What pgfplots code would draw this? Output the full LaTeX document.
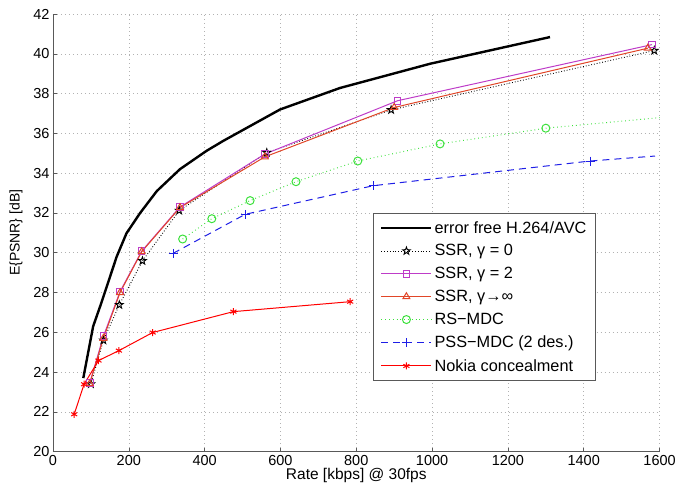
\documentclass[border=0pt]{standalone}
\usepackage{fontspec}
\setmainfont{Liberation Sans}
\usepackage{pgfplots}
\pgfplotsset{compat=1.18}

\definecolor{ssrmag}{RGB}{190,60,200}
\definecolor{ssrred}{RGB}{225,70,40}
\definecolor{rsgreen}{RGB}{60,225,60}
\definecolor{pssblue}{RGB}{30,30,230}

% five-pointed star outline (matlab pentagram)
\pgfdeclareplotmark{pentagram}{%
  \pgfpathmoveto{\pgfpointpolar{90}{\pgfplotmarksize}}%
  \pgfpathlineto{\pgfpointpolar{126}{0.4\pgfplotmarksize}}%
  \pgfpathlineto{\pgfpointpolar{162}{\pgfplotmarksize}}%
  \pgfpathlineto{\pgfpointpolar{198}{0.4\pgfplotmarksize}}%
  \pgfpathlineto{\pgfpointpolar{234}{\pgfplotmarksize}}%
  \pgfpathlineto{\pgfpointpolar{270}{0.4\pgfplotmarksize}}%
  \pgfpathlineto{\pgfpointpolar{306}{\pgfplotmarksize}}%
  \pgfpathlineto{\pgfpointpolar{342}{0.4\pgfplotmarksize}}%
  \pgfpathlineto{\pgfpointpolar{18}{\pgfplotmarksize}}%
  \pgfpathlineto{\pgfpointpolar{54}{0.4\pgfplotmarksize}}%
  \pgfpathclose\pgfusepathqstroke}

\begin{document}
\begin{tikzpicture}
\begin{axis}[
  scale only axis,
  width=607pt, height=438pt,
  xmin=0, xmax=1600, ymin=20, ymax=42,
  xtick={0,200,...,1600}, ytick={20,22,...,42},
  axis x line=bottom, axis y line=left,
  axis line style={-, gray!70!black, line width=0.6pt},
  tick style={gray!70!black, line width=0.5pt},
  tick align=inside, major tick length=4pt,
  grid=major,
  major grid style={gray!60, line width=0.5pt, dash pattern=on 0.8pt off 3.2pt},
  /pgf/number format/assume math mode=true,
  /pgf/number format/1000 sep={},
  font=\fontsize{14.5}{16}\selectfont,
  xlabel={Rate [kbps] @ 30fps},
  ylabel={E\{PSNR\} [dB]},
  xlabel style={font=\fontsize{15.5}{17}\selectfont, yshift=4pt},
  ylabel style={font=\fontsize{14}{16}\selectfont, yshift=4pt},
  legend style={at={(axis cs:844,32)}, anchor=north west,
    font=\fontsize{16.3}{18}\selectfont, draw=gray!70!black, line width=0.6pt,
    row sep=6pt, inner xsep=7pt, inner ysep=6pt, cells={anchor=west}},
  legend image code/.code={\draw[mark=none] (0pt,0pt) -- (50pt,0pt);
    \draw plot coordinates {(25pt,0pt)};},
]
% error free H.264/AVC
\addplot[black, line width=2.4pt, no marks] coordinates {
  (80,23.7) (106,26.3) (128,27.5) (168,29.8) (194,30.98) (230,32.0)
  (274,33.1) (335,34.2) (405,35.12) (449,35.62) (599,37.2) (757,38.28)
  (995,39.5) (1311,40.84)};
\addlegendentry{error free H.264/AVC\hspace{28pt}}
% SSR gamma = 0
\addplot[black, line width=0.9pt, dash pattern=on 0.8pt off 2pt,
  mark=pentagram, mark size=4pt, mark options={solid}] coordinates {
  (100,23.4) (133,25.6) (175,27.38) (236,29.59) (333,32.12) (564,35.03)
  (892,37.18) (1586,40.16)};
\addlegendentry{SSR, γ = 0}
% SSR gamma = 2
\addplot[ssrmag, line width=1pt, mark=square, mark size=3.3pt] coordinates {
  (97,23.45) (133,25.8) (177,28.05) (234,30.08) (335,32.3) (559,34.96)
  (909,37.64) (1580,40.46)};
\addlegendentry{SSR, γ = 2}
% SSR gamma -> inf
\addplot[ssrred, line width=1pt, mark=triangle, mark size=4pt] coordinates {
  (97,23.42) (133,25.7) (177,28.0) (234,30.05) (335,32.27) (559,34.82)
  (900,37.3) (1569,40.28)};
\addlegendentry{SSR, γ→∞}
% RS-MDC
\addplot[rsgreen, line width=1pt, dash pattern=on 0.8pt off 3pt,
  mark=o, mark size=4pt, mark options={solid}, mark indices={1,...,7}] coordinates {
  (342,30.69) (419,31.71) (520,32.62) (641,33.57) (804,34.61) (1021,35.47)
  (1300,36.26) (1600,36.79)};
\addlegendentry{RS−MDC}
% PSS-MDC (2 des.)
\addplot[pssblue, line width=1pt, dash pattern=on 7pt off 5pt,
  mark=+, mark size=4.5pt, mark options={solid}, mark indices={1,...,4}] coordinates {
  (317,29.97) (507,31.93) (845,33.37) (1417,34.61) (1588,34.86)};
\addlegendentry{PSS−MDC (2 des.)}
% Nokia concealment
\addplot[red, line width=1pt, mark=asterisk, mark size=3.5pt] coordinates {
  (56,21.88) (82,23.39) (120,24.58) (174,25.08) (263,25.99) (476,27.04)
  (784,27.54)};
\addlegendentry{Nokia concealment}
\end{axis}
% page margins as in the reference
\path (current axis.south west) ++(-53pt,-37pt) coordinate (bbA);
\path (current axis.south west) ++(626pt,452pt) coordinate (bbB);
\path (bbA) rectangle (bbB);
\end{tikzpicture}
\end{document}
